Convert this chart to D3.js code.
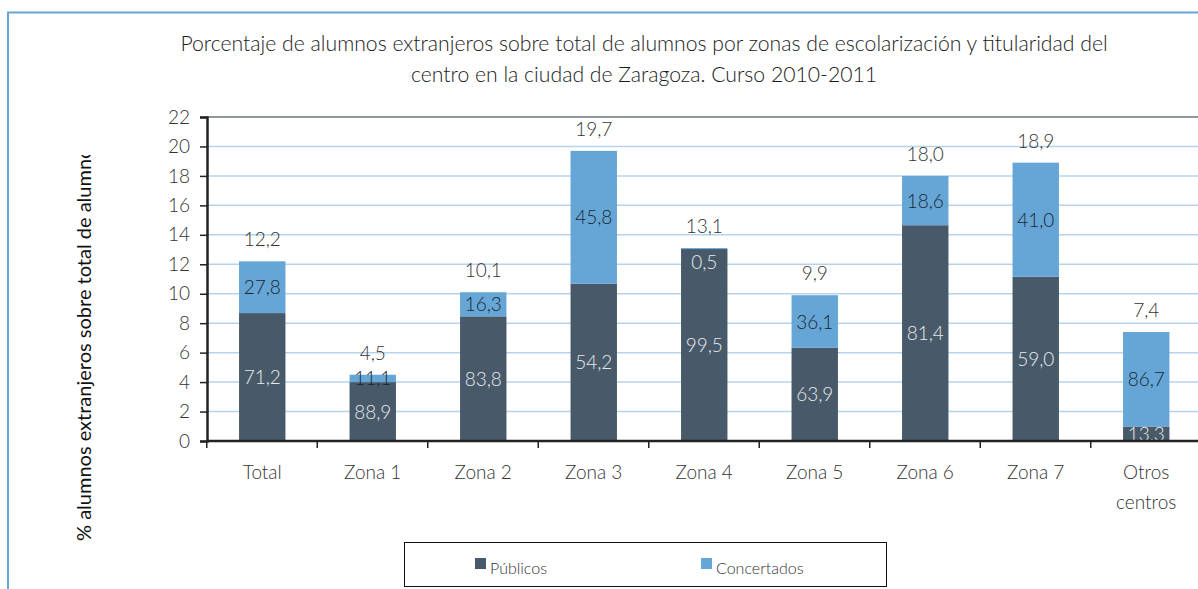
<!DOCTYPE html>
<html>
<head>
<meta charset="utf-8">
<script src="https://cdnjs.cloudflare.com/ajax/libs/d3/7.8.5/d3.min.js"></script>
<style>
  body { margin: 0; background: #fff; }
  svg { display: block; font-family: Lato, "Open Sans", sans-serif; font-weight: 300; }
</style>
</head>
<body>
<svg id="chart" width="1198" height="589"></svg>
<script>
// datos
var zonas = ['Total', 'Zona 1', 'Zona 2', 'Zona 3', 'Zona 4', 'Zona 5', 'Zona 6', 'Zona 7', 'Otros centros'];
var totales = [12.2, 4.5, 10.1, 19.7, 13.1, 9.9, 18.0, 18.9, 7.4];
var pctPublicos = [71.2, 88.9, 83.8, 54.2, 99.5, 63.9, 81.4, 59.0, 13.3];
var pctConcertados = [27.8, 11.1, 16.3, 45.8, 0.5, 36.1, 18.6, 41.0, 86.7];
var ticksY = [0, 2, 4, 6, 8, 10, 12, 14, 16, 18, 20, 22];
var series = ['Públicos', 'Concertados'];

var COLOR_PUB = '#485a6a';
var COLOR_CON = '#65a6d7';

var svg = d3.select('#chart');
var fmt = function(v){ return d3.format('.1f')(v).replace('.', ','); };

// marco azul
svg.append('path')
  .attr('d', 'M8,589 L8,12.5 L1198,12.5')
  .attr('fill', 'none')
  .attr('stroke', '#65a6d7')
  .attr('stroke-width', 2);

// titulo
var titulo = svg.append('text')
  .attr('text-anchor', 'middle')
  .attr('font-size', 21.2)
  .attr('fill', '#1a1a1a');
titulo.append('tspan').attr('x', 644).attr('y', 51)
  .text('Porcentaje de alumnos extranjeros sobre total de alumnos por zonas de escolarización y titularidad del');
titulo.append('tspan').attr('x', 644).attr('y', 82)
  .text('centro en la ciudad de Zaragoza.  Curso 2010-2011');

var x0 = 207, yTop = 117, yBottom = 441;
var x = d3.scaleBand().domain(zonas).range([x0, x0 + 9 * 110.5]).paddingInner(0.58).paddingOuter(0.29);
var y = d3.scaleLinear().domain([0, 22]).range([yBottom, yTop]);

// lineas de division
svg.append('g').selectAll('line').data(ticksY.filter(function(d){ return d > 0 && d < 22; })).enter().append('line')
  .attr('x1', x0).attr('x2', 1198)
  .attr('y1', function(d){ return y(d); })
  .attr('y2', function(d){ return y(d); })
  .attr('stroke', '#b7d3ec')
  .attr('stroke-width', 1.5);

// borde superior del area de trazado
svg.append('line')
  .attr('x1', x0).attr('x2', 1198).attr('y1', yTop).attr('y2', yTop)
  .attr('stroke', '#6b7580').attr('stroke-width', 1.5);

// barras apiladas
var filas = zonas.map(function(z, i){
  var pub = totales[i] * pctPublicos[i] / 100;
  return { zona: z, total: totales[i], pub: pub, pPub: pctPublicos[i], pCon: pctConcertados[i] };
});

var barras = svg.append('g').selectAll('g').data(filas).enter().append('g');

barras.append('rect')
  .attr('x', function(d){ return x(d.zona); })
  .attr('width', x.bandwidth())
  .attr('y', function(d){ return y(d.pub); })
  .attr('height', function(d){ return y(0) - y(d.pub); })
  .attr('fill', COLOR_PUB);

barras.append('rect')
  .attr('x', function(d){ return x(d.zona); })
  .attr('width', x.bandwidth())
  .attr('y', function(d){ return y(d.total); })
  .attr('height', function(d){ return y(d.pub) - y(d.total); })
  .attr('fill', COLOR_CON);

// etiquetas de las barras
barras.each(function(d){
  var g = d3.select(this);
  var cx = x(d.zona) + x.bandwidth() / 2;

  g.append('text')
    .attr('x', cx)
    .attr('y', (y(0) + y(d.pub)) / 2 + 7)
    .attr('text-anchor', 'middle')
    .attr('font-size', 19)
    .attr('fill', '#e6e9ec')
    .text(fmt(d.pPub));

  var conH = y(d.pub) - y(d.total);
  var pequeno = conH < 4;
  g.append('text')
    .attr('x', cx)
    .attr('y', pequeno ? y(d.total) + 21 : (y(d.pub) + y(d.total)) / 2 + 7)
    .attr('text-anchor', 'middle')
    .attr('font-size', 19)
    .attr('fill', pequeno ? '#e6e9ec' : '#1c2630')
    .text(fmt(d.pCon));

  g.append('text')
    .attr('x', cx)
    .attr('y', y(d.total) - 15)
    .attr('text-anchor', 'middle')
    .attr('font-size', 19)
    .attr('fill', '#333')
    .text(fmt(d.total));
});

// eje y
var ejeY = svg.append('g').attr('transform', 'translate(' + x0 + ',0)')
  .call(d3.axisLeft(y).tickValues(ticksY).tickSize(7).tickPadding(10).tickFormat(d3.format('d')));
ejeY.select('.domain').attr('stroke', '#222').attr('stroke-width', 2.5);
ejeY.selectAll('.tick line').attr('stroke', '#222').attr('stroke-width', 1.5);
ejeY.selectAll('.tick text').attr('font-size', 19).attr('fill', '#333').attr('font-family', 'Lato, sans-serif');

// eje x
svg.append('line')
  .attr('x1', x0).attr('x2', 1198).attr('y1', yBottom).attr('y2', yBottom)
  .attr('stroke', '#222').attr('stroke-width', 2.5);
svg.append('g').selectAll('line').data(zonas).enter().append('line')
  .attr('x1', function(d){ return x(d) - x.step() * x.paddingInner() / 2 - 0.25; })
  .attr('x2', function(d){ return x(d) - x.step() * x.paddingInner() / 2 - 0.25; })
  .attr('y1', yBottom).attr('y2', yBottom + 7)
  .attr('stroke', '#222').attr('stroke-width', 1.5);

var etiquetasX = svg.append('g').selectAll('text').data(zonas).enter().append('text')
  .attr('text-anchor', 'middle')
  .attr('font-size', 19)
  .attr('fill', '#333')
  .attr('y', 479);
etiquetasX.each(function(d){
  var t = d3.select(this);
  var partes = d === 'Otros centros' ? ['Otros', 'centros'] : [d];
  partes.forEach(function(p, i){
    t.append('tspan')
      .attr('x', x(d) + x.bandwidth() / 2)
      .attr('dy', i === 0 ? 0 : 30)
      .text(p);
  });
});

// titulo eje y (recortado como en el original)
svg.append('clipPath').attr('id', 'clipY')
  .append('rect').attr('x', 60).attr('y', 155).attr('width', 50).attr('height', 400);
svg.append('g').attr('clip-path', 'url(#clipY)')
  .append('text')
  .attr('transform', 'translate(91,541) rotate(-90)')
  .attr('font-size', 20)
  .attr('font-weight', 400)
  .attr('fill', '#111')
  .text('% alumnos extranjeros sobre total de alumnos');

// leyenda
var leyenda = svg.append('g');
leyenda.append('rect')
  .attr('x', 404.5).attr('y', 542.5).attr('width', 482).attr('height', 44)
  .attr('fill', '#fff').attr('stroke', '#111').attr('stroke-width', 1);
var posLeyenda = [475, 701];
series.forEach(function(s, i){
  leyenda.append('rect')
    .attr('x', posLeyenda[i]).attr('y', 558).attr('width', 11).attr('height', 11)
    .attr('fill', i === 0 ? COLOR_PUB : COLOR_CON);
  leyenda.append('text')
    .attr('x', posLeyenda[i] + 15).attr('y', 574)
    .attr('font-size', 16)
    .attr('fill', '#333')
    .text(s);
});
</script>
</body>
</html>
